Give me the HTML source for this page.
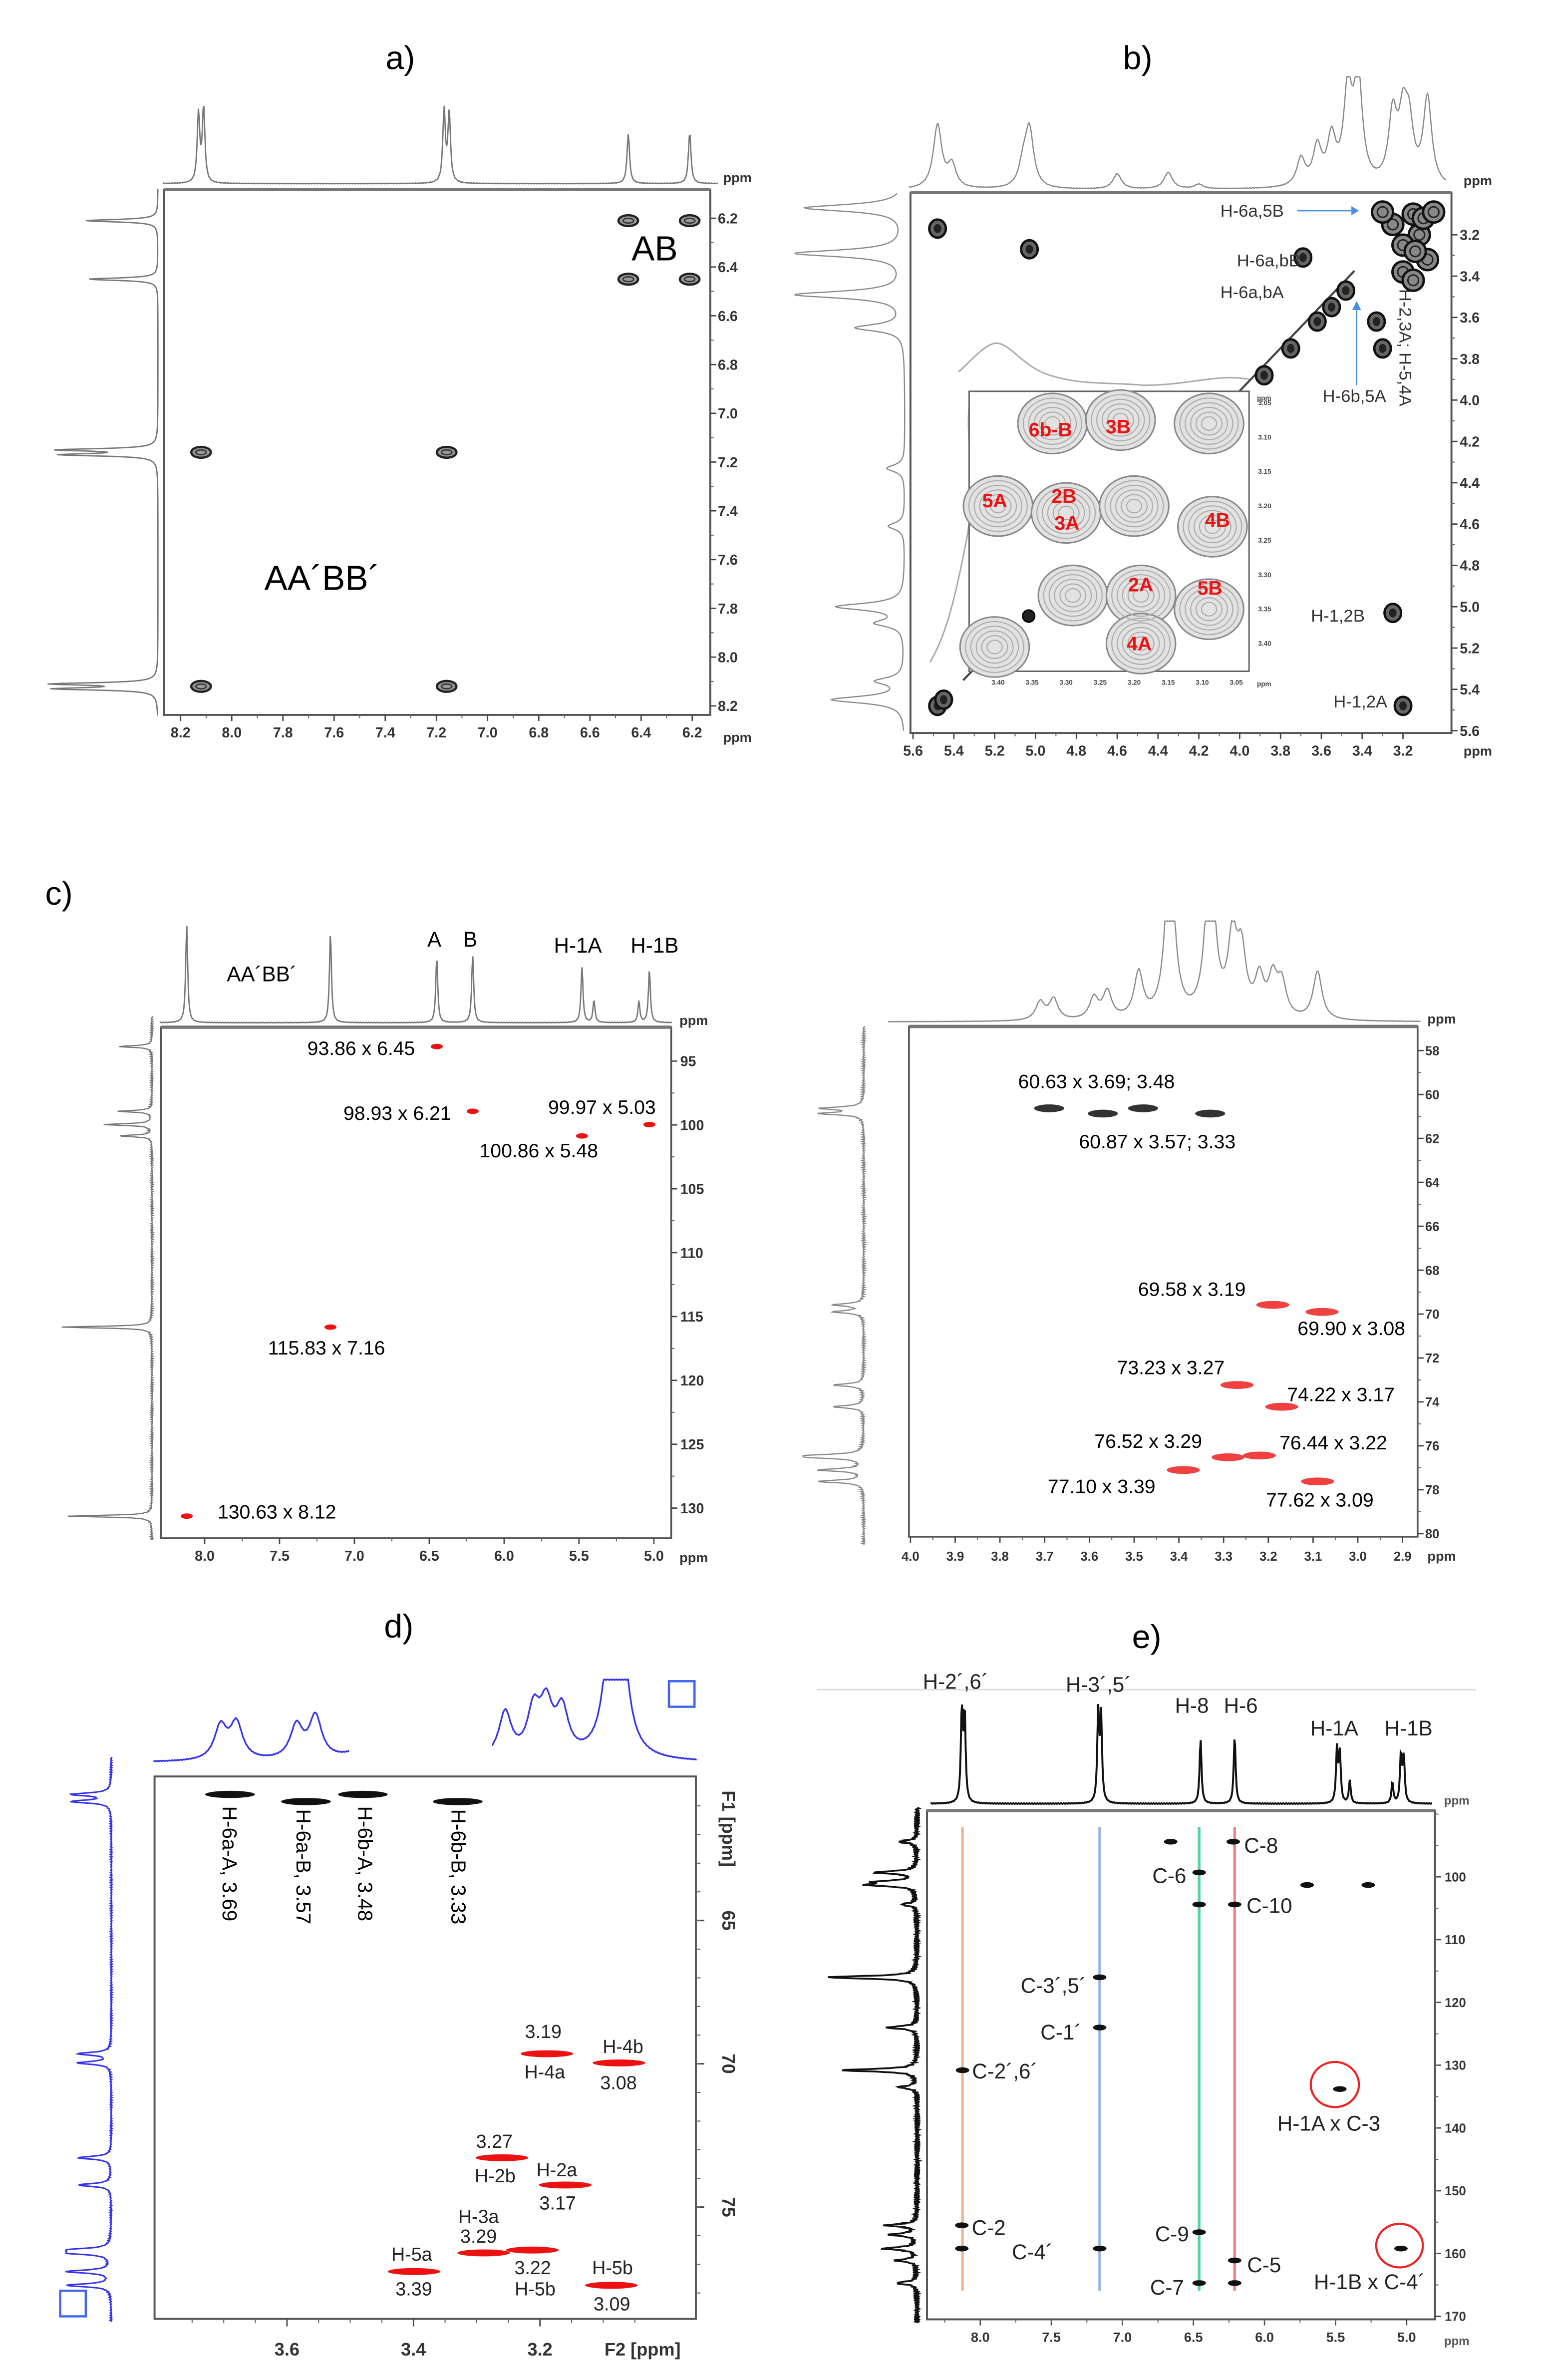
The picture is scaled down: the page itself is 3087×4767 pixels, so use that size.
<!DOCTYPE html>
<html><head><meta charset="utf-8"><title>NMR spectra panels</title>
<style>
html,body{margin:0;padding:0;background:#fff;}
svg{display:block;}
text{font-family:"Liberation Sans",sans-serif;}
</style></head>
<body>
<svg id="fig" xmlns="http://www.w3.org/2000/svg" width="3087" height="4767" viewBox="0 0 1024 1581.3" preserveAspectRatio="none">
<rect x="0" y="0" width="1024" height="1582" fill="#fff"/>
<text x="266" y="46" font-size="22" text-anchor="middle">a)</text>
<text x="756" y="46" font-size="22" text-anchor="middle">b)</text>
<text x="30" y="601" font-size="22">c)</text>
<text x="265" y="1088" font-size="22" text-anchor="middle">d)</text>
<text x="762" y="1095" font-size="22" text-anchor="middle">e)</text>
<g id="layer"></g>
</svg>
<script>
// ---------- DATA ----------
const aTopShift=[8.13,8.11,7.17,7.15,6.45,6.21];
const aTopInt=[46,50,48,46,33,34];
const aLeftShift=[6.21,6.45,7.15,7.17,8.11,8.13];
const aLeftInt=[48,46,64,62,68,66];
const aCrossX=[8.12,7.16,8.12,7.16,6.45,6.21,6.45,6.21];
const aCrossY=[7.16,7.16,8.12,8.12,6.21,6.21,6.45,6.45];
const aTicks=[8.2,8.0,7.8,7.6,7.4,7.2,7.0,6.8,6.6,6.4,6.2];
const bTopShift=[5.48,5.41,5.06,5.03,4.60,4.35,4.20,3.70,3.62,3.55,3.47,3.42,3.25,3.20,3.17,3.08];
const bTopInt=[42,15,14,38,10,11,3,18,25,30,60,70,45,40,35,58];
const bLeftShift=[3.07,3.29,3.49,3.65,4.33,4.61,5.00,5.08,5.36,5.45];
const bLeftInt=[66,72,72,32,12,11,45,18,18,48];
const bPeakX=[5.48,5.03,5.48,3.25,3.20,3.69,3.48,3.62,3.75,3.88,3.55,3.33,3.30,5.45];
const bPeakY=[3.17,3.27,5.48,5.03,5.48,3.31,3.47,3.62,3.75,3.88,3.55,3.62,3.75,5.45];
const bClusterX=[3.15,3.12,3.08,3.25,3.20,3.14,3.10,3.20,3.15,3.30,3.05];
const bClusterY=[3.10,3.20,3.32,3.15,3.25,3.28,3.12,3.38,3.42,3.09,3.09];
const bTicks=[5.6,5.4,5.2,5.0,4.8,4.6,4.4,4.2,4.0,3.8,3.6,3.4,3.2];
const insX=[3.32,3.22,3.09,3.40,3.30,3.20,3.085,3.29,3.19,3.09,3.19,3.405];
const insY=[3.08,3.075,3.08,3.20,3.21,3.20,3.23,3.33,3.33,3.35,3.40,3.405];
const insTicks=[3.40,3.35,3.30,3.25,3.20,3.15,3.10,3.05];
const cLTopShift=[8.12,7.16,6.45,6.21,5.48,5.40,5.10,5.03];
const cLTopInt=[65,60,43,45,37,15,14,35];
const cLLeftShift=[93.86,98.93,99.97,100.86,115.83,130.63];
const cLLeftInt=[22,22,32,22,60,56];
const cLPeakC=[93.86,98.93,99.97,100.86,115.83,130.63];
const cLPeakH=[6.45,6.21,5.03,5.48,7.16,8.12];
const cLXTicks=[8.0,7.5,7.0,6.5,6.0,5.5,5.0];
const cLYTicks=[95,100,105,110,115,120,125,130];
const cRTopShift=[3.71,3.68,3.59,3.56,3.49,3.42,3.33,3.28,3.26,3.22,3.19,3.17,3.09];
const cRTopInt=[12,14,14,18,30,120,120,50,40,25,25,22,32];
const cRLeftShift=[60.63,60.87,69.58,69.90,73.23,74.22,76.44,76.52,77.10,77.62];
const cRLeftInt=[28,28,20,20,20,20,28,28,30,30];
const cRPeakC=[60.63,60.87,60.63,60.87,69.58,69.90,73.23,74.22,76.52,76.44,77.10,77.62];
const cRPeakH=[3.69,3.57,3.48,3.33,3.19,3.08,3.27,3.17,3.29,3.22,3.39,3.09];
const cRXTicks=[4.0,3.9,3.8,3.7,3.6,3.5,3.4,3.3,3.2,3.1,3.0,2.9];
const cRYTicks=[58,60,62,64,66,68,70,72,74,76,78,80];
const dBlackH=[3.69,3.57,3.48,3.33];
const dBlackC=[60.6,60.85,60.6,60.85];
const dRedH=[3.189,3.075,3.26,3.16,3.289,3.212,3.399,3.087];
const dRedC=[69.65,69.97,73.28,74.23,76.6,76.5,77.25,77.73];
const dTopShift=[3.705,3.68,3.585,3.555,3.45,3.40,3.255,3.21,3.19,3.165,3.085,3.075];
const dTopInt=[22,24,22,28,80,90,30,30,32,30,90,90];
const dLeftShift=[60.6,60.85,69.65,69.97,73.28,74.23,76.5,76.6,77.25,77.73];
const dLeftInt=[26,26,22,22,22,22,28,28,30,30];
const dXTicks=[3.6,3.4,3.2];
const dYTicks=[65,70,75];
const ePeakH=[6.66,6.22,6.46,6.46,6.21,5.70,5.27,7.16,7.16,8.125,5.47,8.13,8.13,7.16,6.46,6.21,6.46,6.21,5.04];
const ePeakC=[94.4,94.4,99.3,104.4,104.4,101.3,101.3,116,124,130.8,133.8,155.5,159.2,159.2,156.6,161.1,164.7,164.7,159.2];
const eTopShift=[8.13,8.11,7.17,7.15,6.45,6.21,5.49,5.47,5.40,5.10,5.04,5.02];
const eTopInt=[62,58,60,56,43,45,36,32,15,14,32,30];
const eLeftShift=[94.4,99.3,100.8,101.3,104.4,116,124,130.8,133.5,155.5,157,159.2,161.1,164.7];
const eLeftInt=[12,28,24,30,10,60,20,50,12,20,18,22,14,14];
const eLineH=[8.125,7.16,6.46,6.21];
const eXTicks=[8.0,7.5,7.0,6.5,6.0,5.5,5.0];
const eYTicks=[100,110,120,130,140,150,160,170];

// ---------- HELPERS ----------
const NS='http://www.w3.org/2000/svg';
const layer=document.getElementById('layer');
function mk(tag,parent){const e=document.createElementNS(NS,tag);(parent||layer).appendChild(e);return e;}
function lin(p0,v0,p1,v1){return v=>p0+(v-v0)*(p1-p0)/(v1-v0);}
function lsum(v,shifts,ints,w){let s=0;for(let i=0;i<shifts.length;i++){const d=(v-shifts[i])/w;s+=ints[i]/(1+d*d);}return s;}
function hTrace(name,shifts,ints,w,xs,v0,v1,base,maxH,color,sw){
  let d='';const N=700;
  for(let i=0;i<=N;i++){const v=v0+(v1-v0)*i/N;let h=lsum(v,shifts,ints,w);if(h>maxH)h=maxH;
    d+=(i?'L':'M')+xs(v).toFixed(2)+','+(base-h-0.5*Math.sin(i*1.7)*0.4).toFixed(2);}
  const p=mk('path');p.setAttribute('d',d);p.setAttribute('fill','none');p.setAttribute('stroke',color);p.setAttribute('stroke-width',sw||0.9);
  
  
  return p;}
function vTrace(name,shifts,ints,w,ys,v0,v1,base,maxH,color,sw,noise){
  let d='';const N=900;
  for(let i=0;i<=N;i++){const v=v0+(v1-v0)*i/N;let h=lsum(v,shifts,ints,w);if(h>maxH)h=maxH;
    const nz=noise?noise*Math.sin(i*2.3)*Math.cos(i*0.77):0;
    d+=(i?'L':'M')+(base-h+nz).toFixed(2)+','+ys(v).toFixed(2);}
  const p=mk('path');p.setAttribute('d',d);p.setAttribute('fill','none');p.setAttribute('stroke',color);p.setAttribute('stroke-width',sw||0.9);
  
  
  return p;}
function box(name,x0,y0,x1,y1,sw,topSw){
  const r=mk('rect');r.setAttribute('x',x0);r.setAttribute('y',y0);r.setAttribute('width',x1-x0);r.setAttribute('height',y1-y0);
  r.setAttribute('fill','none');r.setAttribute('stroke','#555');r.setAttribute('stroke-width',sw||1.2);
  
  
  if(topSw){const l=mk('line');l.setAttribute('x1',x0);l.setAttribute('x2',x1);l.setAttribute('y1',y0);l.setAttribute('y2',y0);l.setAttribute('stroke','#777');l.setAttribute('stroke-width',topSw);}
}
function txt(name,s,x,y,size,opts){
  const t=mk('text');t.textContent=s;t.setAttribute('x',x);t.setAttribute('y',y);t.setAttribute('font-size',size);
  opts=opts||{};
  t.setAttribute('text-anchor',opts.anchor||'middle');
  if(opts.fill)t.setAttribute('fill',opts.fill);
  if(opts.bold)t.setAttribute('font-weight','bold');
  if(opts.rot)t.setAttribute('transform','rotate('+opts.rot+' '+x+' '+y+')');
  
  
  return t;}
function xTicks(name,vals,xs,y,len,labelY,size,fmt,minor){
  vals.forEach(v=>{const l=mk('line');l.setAttribute('x1',xs(v));l.setAttribute('x2',xs(v));l.setAttribute('y1',y);l.setAttribute('y2',y+len);l.setAttribute('stroke','#444');l.setAttribute('stroke-width',0.9);
    txt(name+'-label',fmt(v),xs(v),labelY,size,{bold:true,fill:'#333'});});
  if(minor)minor.forEach(v=>{const l=mk('line');l.setAttribute('x1',xs(v));l.setAttribute('x2',xs(v));l.setAttribute('y1',y);l.setAttribute('y2',y+len*0.55);l.setAttribute('stroke','#666');l.setAttribute('stroke-width',0.7);});
}
function yTicks(name,vals,ys,x,len,labelX,size,fmt,minor,anchor){
  vals.forEach(v=>{const l=mk('line');l.setAttribute('x1',x);l.setAttribute('x2',x+len);l.setAttribute('y1',ys(v));l.setAttribute('y2',ys(v));l.setAttribute('stroke','#444');l.setAttribute('stroke-width',0.9);
    txt(name+'-label',fmt(v),labelX,ys(v)+size*0.36,size,{anchor:anchor||'start',bold:true,fill:'#333'});});
  if(minor)minor.forEach(v=>{const l=mk('line');l.setAttribute('x1',x);l.setAttribute('x2',x+len*0.55);l.setAttribute('y1',ys(v));l.setAttribute('y2',ys(v));l.setAttribute('stroke','#666');l.setAttribute('stroke-width',0.7);});
}
function range(a,b,s){const r=[];for(let v=a;v<=b+1e-9;v+=s)r.push(+v.toFixed(3));return r;}
function ell(name,cx,cy,rx,ry,fill,stroke,sw){
  const e=mk('ellipse');e.setAttribute('cx',cx);e.setAttribute('cy',cy);e.setAttribute('rx',rx);e.setAttribute('ry',ry);
  e.setAttribute('fill',fill);e.setAttribute('stroke',stroke||'none');e.setAttribute('stroke-width',sw||1);
  
  
  return e;}

// ---------- PANEL A ----------
{
const xs=lin(120,8.2,460,6.2), ys=lin(145,6.2,469,8.2);
hTrace('panel-a-top-spectrum',aTopShift,aTopInt,0.006,xs,8.27,6.1,122,60,'#777',0.9);
vTrace('panel-a-left-spectrum',aLeftShift,aLeftInt,0.006,ys,6.08,8.24,105,75,'#777',0.9);
box('panel-a-plot-frame',109,126,472,475,1.3,2);
xTicks('panel-a-x-tick',aTicks,xs,475,4,490,9.5,v=>v.toFixed(1),range(6.3,8.1,0.2));
yTicks('panel-a-y-tick',aTicks,ys,472,4,477,9.5,v=>v.toFixed(1),range(6.3,8.1,0.2));
txt('panel-a-x-unit','ppm',490,493,9,{bold:true,fill:'#333'});
txt('panel-a-y-unit','ppm',490,121,9,{bold:true,fill:'#333'});
for(let i=0;i<aCrossX.length;i++){
  const cx=xs(aCrossX[i]),cy=ys(aCrossY[i]);
  ell('panel-a-cross-peak',cx,cy,6.5,3.6,'#999','#222',1.5);
  ell('panel-a-cross-peak-inner',cx,cy,3.5,1.6,'none','#333',0.9);
}
txt('panel-a-ab-label','AB',435,173,23,{});
txt('panel-a-aabb-label','AA´BB´',214,392,23,{});
}

// ---------- PANEL B ----------
{
const xs=lin(623,5.48,932.3,3.2), ys=lin(156,3.2,469,5.48);
hTrace('panel-b-top-spectrum',bTopShift,bTopInt,0.025,xs,5.62,2.99,126,75,'#888',0.8);
vTrace('panel-b-left-spectrum',bLeftShift,bLeftInt,0.02,ys,3.0,5.6,601.5,80,'#888',0.8);
box('panel-b-plot-frame',605,128,964.5,487,1.3,2);
xTicks('panel-b-x-tick',bTicks,xs,487,4,502,9.5,v=>v.toFixed(1),range(3.3,5.5,0.2));
yTicks('panel-b-y-tick',bTicks,ys,964.5,4,970,9.5,v=>v.toFixed(1),range(3.3,5.5,0.2));
txt('panel-b-x-unit','ppm',982,502,9,{bold:true,fill:'#333'});
txt('panel-b-y-unit','ppm',982,123,9,{bold:true,fill:'#333'});
const ln=mk('line');ln.setAttribute('x1',640);ln.setAttribute('y1',452);ln.setAttribute('x2',900);ln.setAttribute('y2',180);ln.setAttribute('stroke','#444');ln.setAttribute('stroke-width',1.4);


for(let i=0;i<bPeakX.length;i++){
  const cx=xs(bPeakX[i]),cy=ys(bPeakY[i]);
  ell('panel-b-cross-peak',cx,cy,5.5,6,'#666','#111',1.6);
  ell('panel-b-cross-peak-core',cx,cy,2.5,3,'#222','none');
}
for(let i=0;i<bClusterX.length;i++){
  const cx=xs(bClusterX[i]),cy=ys(bClusterY[i]);
  ell('panel-b-diagonal-cluster-peak',cx,cy,7,7,'#888','#111',1.6);
  ell('panel-b-diagonal-cluster-core',cx,cy,3.5,3.5,'none','#222',1);
}
const ixs=lin(663.2,3.40,821.5,3.05), iys=lin(267.7,3.05,427.6,3.40);
const ip=mk('path');ip.setAttribute('d','M637,247 C645,240 655,228 662,228 C672,228 680,245 700,250 C720,256 740,254 760,256 C790,256 810,248 830,252');ip.setAttribute('fill','none');ip.setAttribute('stroke','#aaa');ip.setAttribute('stroke-width',1);


const ip2=mk('path');ip2.setAttribute('d','M645,262 C640,290 650,320 642,360 C636,390 630,420 618,440');ip2.setAttribute('fill','none');ip2.setAttribute('stroke','#aaa');ip2.setAttribute('stroke-width',1);


const ir=mk('rect');ir.setAttribute('x',644);ir.setAttribute('y',260);ir.setAttribute('width',186);ir.setAttribute('height',186);ir.setAttribute('fill','#fff');ir.setAttribute('stroke','#666');ir.setAttribute('stroke-width',1);


for(let i=0;i<insX.length;i++){
  const cx=ixs(insX[i]),cy=iys(insY[i]);
  ell('panel-b-inset-contour-outer',cx,cy,23,20,'#e2e2e2','#888',1);
}
for(let i=0;i<insX.length;i++){
  const cx=ixs(insX[i]),cy=iys(insY[i]);
  for(let k=1;k<6;k++){
    ell('panel-b-inset-contour',cx,cy,23-k*3.6,20-k*3.1,'none','#aaa',0.7);
  }
}
ell('panel-b-inset-diagonal-peak',ixs(3.355),iys(3.36),4,4,'#222','#000',1);
insTicks.forEach(v=>{txt('panel-b-inset-x-tick-label',v.toFixed(2),ixs(v),455,4.5,{bold:true,fill:'#444'});
  txt('panel-b-inset-y-tick-label',v.toFixed(2),836,iys(v)+1.5,4.5,{anchor:'start',bold:true,fill:'#444'});});
txt('panel-b-inset-unit','ppm',840,456,4.5,{bold:true,fill:'#444'});
txt('panel-b-inset-unit-top','ppm',840,266,4.5,{bold:true,fill:'#444'});
const redLbl=[['6b-B',698,290],['3B',743,288],['5A',661,337],['2B',707,334],['3A',709,352],['4B',809,350],['2A',758,393],['5B',804,395],['4A',757,432]];
redLbl.forEach(r=>txt('panel-b-inset-label-'+r[0].toLowerCase(),r[0],r[1],r[2],13,{fill:'#ee1111',bold:true}));
txt('panel-b-label-h6a5b','H-6a,5B',832,144,11.5,{fill:'#333'});
txt('panel-b-label-h6abb','H-6a,bB',843,177,11.5,{fill:'#333'});
txt('panel-b-label-h6aba','H-6a,bA',832,198,11.5,{fill:'#333'});
txt('panel-b-label-h6b5a','H-6b,5A',900,267,11.5,{fill:'#333'});
txt('panel-b-label-h23a','H-2,3A; H-5,4A',930,231,11.5,{fill:'#333',rot:90});
txt('panel-b-label-h12b','H-1,2B',889,413,11.5,{fill:'#333'});
txt('panel-b-label-h12a','H-1,2A',904,470,11.5,{fill:'#333'});
const a1=mk('line');a1.setAttribute('x1',862);a1.setAttribute('y1',140);a1.setAttribute('x2',898);a1.setAttribute('y2',140);a1.setAttribute('stroke','#4a90d9');a1.setAttribute('stroke-width',0.9);


const a2=mk('line');a2.setAttribute('x1',901.5);a2.setAttribute('y1',256);a2.setAttribute('x2',901.5);a2.setAttribute('y2',204);a2.setAttribute('stroke','#4a90d9');a2.setAttribute('stroke-width',0.9);


const h1=mk('path');h1.setAttribute('d','M898,137 L903,140 L898,143 Z');h1.setAttribute('fill','#4a90d9');
const h2=mk('path');h2.setAttribute('d','M898.5,206 L901.5,200 L904.5,206 Z');h2.setAttribute('fill','#4a90d9');
}

// ---------- PANEL C LEFT ----------
{
const xs=lin(136,8.0,434.5,5.0), ys=lin(705,95,1002,130);
hTrace('panel-c-left-top-spectrum',cLTopShift,cLTopInt,0.008,xs,8.3,4.88,679.5,70,'#777',0.9);
vTrace('panel-c-left-side-spectrum',cLLeftShift,cLLeftInt,0.08,ys,91.5,132.5,101,70,'#777',0.8,0.8);
box('panel-c-left-plot-frame',107,682.5,446,1022,1.2,2.2);
xTicks('panel-c-left-x-tick',cLXTicks,xs,1022,4,1037,9.5,v=>v.toFixed(1),range(5.25,7.75,0.5));
yTicks('panel-c-left-y-tick',cLYTicks,ys,446,4,452,9.5,v=>String(v),range(97.5,127.5,5));
txt('panel-c-left-x-unit','ppm',461,1038,9,{bold:true,fill:'#333'});
txt('panel-c-left-y-unit','ppm',461,681,9,{bold:true,fill:'#333'});
for(let i=0;i<cLPeakC.length;i++){ell('panel-c-left-hsqc-peak',xs(cLPeakH[i]),ys(cLPeakC[i]),4,1.8,'#ee1111','none');}
txt('panel-c-label-aabb','AA´BB´',174,652,14,{});
txt('panel-c-label-a','A',288.6,629,14,{});
txt('panel-c-label-b','B',312.5,629,14,{});
txt('panel-c-label-h1a','H-1A',384,633,14,{});
txt('panel-c-label-h1b','H-1B',435,633,14,{});
const L=[['93.86 x 6.45',240,701],['98.93 x 6.21',264,744],['99.97 x 5.03',400,740],['100.86 x 5.48',358,769],['115.83 x 7.16',217,900],['130.63 x 8.12',184,1009]];
L.forEach(l=>txt('panel-c-left-peak-label',l[0],l[1],l[2],13,{}));
}

// ---------- PANEL C RIGHT ----------
{
const xs=lin(605,4.0,932,2.9), ys=lin(698,58,1019,80);
hTrace('panel-c-right-top-spectrum',cRTopShift,cRTopInt,0.012,xs,4.05,2.86,679,67,'#888',0.8);
vTrace('panel-c-right-side-spectrum',cRLeftShift,cRLeftInt,0.07,ys,56.9,80.5,574,40,'#888',0.8,1);
box('panel-c-right-plot-frame',604,682,942,1021,1.2,2.2);
xTicks('panel-c-right-x-tick',cRXTicks,xs,1021,4,1037,8.5,v=>v.toFixed(1),range(2.95,3.95,0.1));
yTicks('panel-c-right-y-tick',cRYTicks,ys,942,4,947,8.5,v=>String(v),range(59,79,2));
txt('panel-c-right-x-unit','ppm',958,1037,9,{bold:true,fill:'#333'});
txt('panel-c-right-y-unit','ppm',958,680,9,{bold:true,fill:'#333'});
for(let i=0;i<cRPeakC.length;i++){
  const black=cRPeakC[i]<65;
  ell('panel-c-right-hsqc-peak',xs(cRPeakH[i]),ys(cRPeakC[i]),black?10:11,2.6,black?'#333':'#f04040','none');
}
const L=[['60.63 x 3.69; 3.48',728.6,723],['60.87 x 3.57; 3.33',769,763],['69.58 x 3.19',792,861],['69.90 x 3.08',898,887],['73.23 x 3.27',778,913],['74.22 x 3.17',891,931],['76.52 x 3.29',763,962],['76.44 x 3.22',886,963],['77.10 x 3.39',732,992],['77.62 x 3.09',877,1001]];
L.forEach(l=>txt('panel-c-right-peak-label',l[0],l[1],l[2],13,{}));
}

// ---------- PANEL D ----------
{
const xs=lin(190.7,3.6,358.8,3.2), ys=lin(1276,65,1466.4,75);
const cp=mk('clipPath');cp.setAttribute('id','dclip');
const r1=mk('rect',cp);r1.setAttribute('x',102);r1.setAttribute('y',1110);r1.setAttribute('width',130);r1.setAttribute('height',70);
const r2=mk('rect',cp);r2.setAttribute('x',327);r2.setAttribute('y',1110);r2.setAttribute('width',136);r2.setAttribute('height',70);
const g=mk('g');g.setAttribute('clip-path','url(#dclip)');
const tp=hTrace('panel-d-top-spectrum',dTopShift,dTopInt,0.012,xs,3.82,2.95,1171,55,'#3333ee',1.1);
g.appendChild(tp);
vTrace('panel-d-side-spectrum',dLeftShift,dLeftInt,0.06,ys,59.3,79.0,74,30,'#3333ee',1.0,0.6);
box('panel-d-plot-frame',102.7,1180.3,462.4,1540.7,1.3,0);
xTicks('panel-d-x-tick',dXTicks,xs,1540.7,5,1565,12,v=>v.toFixed(1),[3.75,3.7,3.65,3.55,3.5,3.45,3.35,3.3,3.25,3.15,3.1,3.05]);
dYTicks.forEach(v=>{const l=mk('line');l.setAttribute('x1',462.4);l.setAttribute('x2',468);l.setAttribute('y1',ys(v));l.setAttribute('y2',ys(v));l.setAttribute('stroke','#444');
  txt('panel-d-y-tick-label',String(v),480,ys(v),12,{bold:true,fill:'#333',rot:90});});
range(61,78,1).forEach(v=>{const l=mk('line');l.setAttribute('x1',462.4);l.setAttribute('x2',465.5);l.setAttribute('y1',ys(v));l.setAttribute('y2',ys(v));l.setAttribute('stroke','#666');l.setAttribute('stroke-width',0.7);});
txt('panel-d-x-axis-title','F2 [ppm]',427,1565,12,{bold:true,fill:'#333'});
txt('panel-d-y-axis-title','F1 [ppm]',480,1215,12,{bold:true,fill:'#333',rot:90});
for(let i=0;i<dBlackH.length;i++){ell('panel-d-black-peak',xs(dBlackH[i]),ys(dBlackC[i]),16.5,2.4,'#111','none');}
for(let i=0;i<dRedH.length;i++){ell('panel-d-red-peak',xs(dRedH[i]),ys(dRedC[i]),17.5,2.3,'#ee1111','none');}
const R=[['H-6a-A, 3.69',148,1200],['H-6a-B, 3.57',197,1202],['H-6b-A, 3.48',238,1200],['H-6b-B, 3.33',300,1202]];
R.forEach(r=>txt('panel-d-ch2-label',r[0],r[1],r[2],13.5,{anchor:'start',rot:90}));
const L=[['3.19',361,1354],['H-4a',362,1381],['H-4b',414,1364],['3.08',411,1388],['3.27',328.5,1427],['H-2b',329,1450],['H-2a',370,1446],['3.17',370.6,1468],['H-3a',318,1477],['3.29',318,1490],['H-5a',273.6,1502],['3.39',275,1525],['3.22',354,1511],['H-5b',355.6,1525],['H-5b',407,1511],['3.09',406.6,1535]];
L.forEach(l=>txt('panel-d-peak-label',l[0],l[1],l[2],12.5,{fill:'#222'}));
const s1=mk('rect');s1.setAttribute('x',444.5);s1.setAttribute('y',1117);s1.setAttribute('width',17);s1.setAttribute('height',17);s1.setAttribute('fill','none');s1.setAttribute('stroke','#4466ee');s1.setAttribute('stroke-width',1.5);


const s2=mk('rect');s2.setAttribute('x',40);s2.setAttribute('y',1522);s2.setAttribute('width',17);s2.setAttribute('height',17);s2.setAttribute('fill','none');s2.setAttribute('stroke','#4466ee');s2.setAttribute('stroke-width',1.5);


}

// ---------- PANEL E ----------
{
const xs=lin(651.4,8.0,934.7,5.0), ys=lin(1247,100,1539,170);
const gl=mk('line');gl.setAttribute('x1',543);gl.setAttribute('x2',981);gl.setAttribute('y1',1122.6);gl.setAttribute('y2',1122.6);gl.setAttribute('stroke','#ddd');gl.setAttribute('stroke-width',1);


hTrace('panel-e-top-spectrum',eTopShift,eTopInt,0.008,xs,8.35,4.82,1198.4,66,'#111',1.3);
vTrace('panel-e-side-spectrum',eLeftShift,eLeftInt,0.25,ys,89,171,609.5,65,'#111',1.2,2.2);
box('panel-e-plot-frame',616,1203,953.6,1541,1.3,2);
xTicks('panel-e-x-tick',eXTicks,xs,1541,4,1556,9,v=>v.toFixed(1),range(5.25,8.25,0.25));
yTicks('panel-e-y-tick',eYTicks,ys,953.6,4,960,8.5,v=>String(v),range(90,165,5));
txt('panel-e-x-unit','ppm',968,1558,8,{bold:true,fill:'#555'});
txt('panel-e-y-unit','ppm',968,1199,8,{bold:true,fill:'#555'});
const lc=['#f5b590','#9bb5e3','#55d39d','#f08585'];
eLineH.forEach((h,i)=>{const l=mk('line');l.setAttribute('x1',xs(h));l.setAttribute('x2',xs(h));l.setAttribute('y1',1214);l.setAttribute('y2',1522);l.setAttribute('stroke',lc[i]);l.setAttribute('stroke-width',1.8);
  
  });
for(let i=0;i<ePeakH.length;i++){ell('panel-e-hmbc-peak',xs(ePeakH[i]),ys(ePeakC[i]),4.5,1.9,'#111','none');}
const L=[['H-2´,6´',635,1122],['H-3´,5´',730,1124],['H-8',792,1138],['H-6',824.5,1138],['H-1A',886.6,1153],['H-1B',936,1153],
['C-8',838,1231],['C-6',777,1251],['C-10',843.5,1271],['C-3´,5´',700,1324],['C-1´',705,1355],['C-2´,6´',667.7,1381],['H-1A x C-3',883,1415.6],['C-2',657,1485],['C-4´',686,1501],['C-9',778.8,1489],['C-5',840,1509.6],['C-7',775.5,1524.6],['H-1B x C-4´',910,1521]];
L.forEach(l=>txt('panel-e-label',l[0],l[1],l[2],14,{fill:'#222'}));
ell('panel-e-circle-h1a-c3',887,1385,16,15,'none','#ee2222',1.4);
ell('panel-e-circle-h1b-c4',930,1492,15.5,14.5,'none','#ee2222',1.4);
}
</script>
</body></html>
